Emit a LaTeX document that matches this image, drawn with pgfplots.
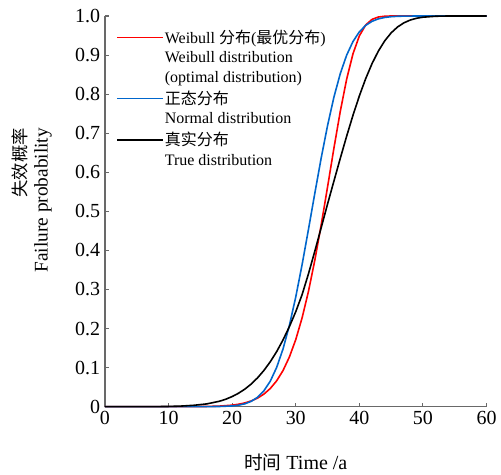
\documentclass[border=0pt]{standalone}
\usepackage{fontspec}
\setmainfont{Liberation Serif}
\newfontfamily\cjk{Noto Sans CJK SC}
\usepackage{pgfplots}
\pgfplotsset{compat=1.18}

\definecolor{wred}{RGB}{255,0,0}
\definecolor{nblue}{RGB}{0,102,204}
\definecolor{axgray}{RGB}{105,105,105}

\begin{document}
\begin{tikzpicture}
\begin{axis}[
    name=ax,
    at={(0,0)}, anchor=south west,
    scale only axis,
    width=286.5pt, height=293.25pt,
    xmin=0, xmax=60, ymin=0, ymax=1,
    clip=false,
    axis x line*=bottom, axis y line*=left,
    axis line style={axgray, line width=0.9pt, -},
    major tick style={axgray, line width=0.8pt},
    major tick length=3pt,
    tick align=inside,
    xtick={0,10,20,30,40,50,60},
    ytick={0,0.1,0.2,0.3,0.4,0.5,0.6,0.7,0.8,0.9,1},
    yticklabels={0,0.1,0.2,0.3,0.4,0.5,0.6,0.7,0.8,0.9,1.0},
    ticklabel style={font=\fontsize{15}{18}\selectfont},
    /pgf/number format/assume math mode=true,
    xlabel={{\cjk\fontsize{14}{16}\selectfont 时间} Time /a},
    xlabel style={at={(rel axis cs:0.5,-0.120)}, anchor=north, inner sep=0pt,
      font=\fontsize{15}{18}\selectfont},
    ylabel={{\cjk\fontsize{13}{15}\selectfont 失效概率}\\Failure probability},
    ylabel style={at={(rel axis cs:-0.2435,0.7136)}, anchor=north east,
      rotate=0, inner sep=0pt, align=right,
      font=\fontsize{14.5}{15.5}\selectfont},
    legend style={draw=none, fill=none, at={(rel axis cs:0.03,0.965)},
      anchor=north west, inner sep=0pt, row sep=4.8pt,
      nodes={inner xsep=1pt, inner ysep=0pt},
      font=\fontsize{12}{15}\selectfont},
    legend cell align=left,
    legend image code/.code={\path[#1] (0pt,0pt) -- (34pt,0pt);},
  ]
% Weibull (optimal)
\addplot[wred, line width=1.2pt, forget plot] coordinates {
  (0,0) (10,0) (14,0.0001) (16,0.0005) (18,0.0014) (20,0.0038) (21,0.0061)
  (22,0.0095) (23,0.0146) (24,0.0219) (25,0.0322) (26,0.0465) (27,0.0661)
  (28,0.0924) (29,0.1271) (30,0.1715) (31,0.2273) (32,0.2950) (33,0.3749)
  (34,0.4652) (35,0.5623) (36,0.6614) (37,0.7556) (38,0.8380) (39,0.9033)
  (40,0.9491) (41,0.9771) (42,0.9914) (43,0.9974) (44,0.9994) (45,1.0) (60,1.0)
};
% normal
\addplot[nblue, line width=1.2pt, forget plot] coordinates {
  (0,0) (10,0) (16,0.0001) (18,0.0004) (20,0.0018) (21,0.0037) (22,0.0073)
  (23,0.0136) (24,0.0240) (25,0.0406) (26,0.0653) (27,0.1004) (28,0.1476)
  (29,0.2078) (30,0.2806) (31,0.3636) (32,0.4538) (33,0.5462) (34,0.6364)
  (35,0.7194) (36,0.7922) (37,0.8524) (38,0.8996) (39,0.9347) (40,0.9594)
  (41,0.9760) (42,0.9864) (43,0.9927) (44,0.9963) (45,0.9982) (46,0.9992)
  (47,0.9996) (48,0.9998) (50,1.0) (60,1.0)
};
% true
\addplot[black, line width=1.2pt, forget plot] coordinates {
  (0,0) (8,0.0001) (10,0.0005) (12,0.0015) (14,0.0035) (16,0.0070) (18,0.0138)
  (19,0.0190) (20,0.0258) (21,0.0343) (22,0.0449) (23,0.0579) (24,0.0738)
  (25,0.0928) (26,0.1150) (27,0.1408) (28,0.1708) (29,0.2048) (30,0.2430)
  (31,0.2868) (32,0.3400) (33,0.3980) (34,0.4580) (35,0.5186) (36,0.5773)
  (37,0.6355) (38,0.6922) (39,0.7459) (40,0.7954) (41,0.8398) (42,0.8783)
  (43,0.9105) (44,0.9366) (45,0.9568) (46,0.9718) (47,0.9824) (48,0.9896)
  (49,0.9942) (50,0.9969) (52,0.9993) (54,1.0) (60,1.0)
};
% legend, one row per text line
\addlegendimage{draw=wred, line width=1.2pt}
\addlegendentry{Weibull {\cjk 分布}({\cjk 最优分布})}
\addlegendimage{draw=none}
\addlegendentry{Weibull distribution}
\addlegendimage{draw=none}
\addlegendentry{(optimal distribution)}
\addlegendimage{draw=nblue, line width=1.2pt}
\addlegendentry{{\cjk 正态分布}}
\addlegendimage{draw=none}
\addlegendentry{Normal distribution}
\addlegendimage{draw=black, line width=1.2pt}
\addlegendentry{{\cjk 真实分布}}
\addlegendimage{draw=none}
\addlegendentry{True distribution}
\end{axis}
\path (ax.south west) ++(-78.75pt,-51pt) coordinate (bl);
\path (ax.north east) ++(10.5pt,12pt) coordinate (tr);
\path (bl) rectangle (tr);
\end{tikzpicture}
\end{document}
